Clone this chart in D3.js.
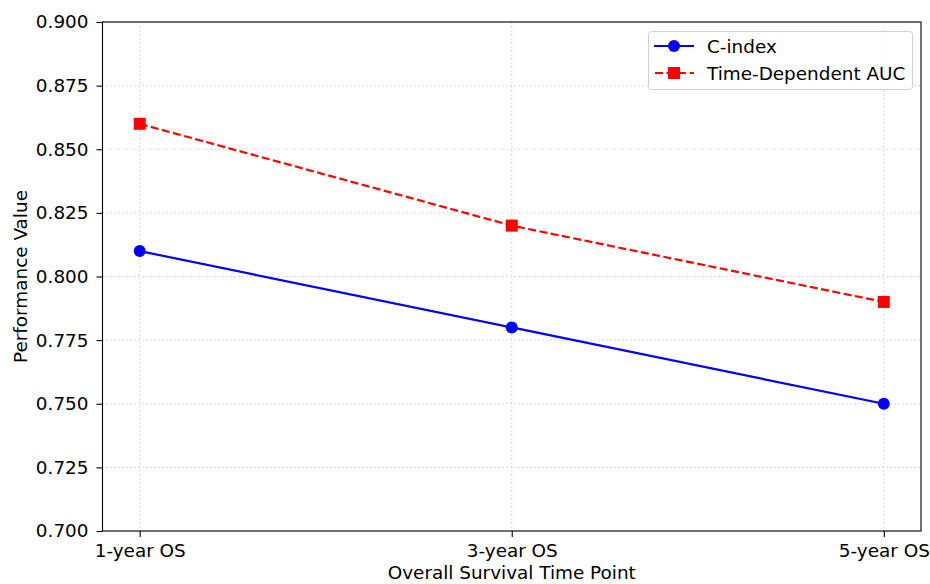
<!DOCTYPE html>
<html><head><meta charset="utf-8">
<script src="https://cdn.jsdelivr.net/npm/d3@7/dist/d3.min.js"></script>
<style>body{margin:0;background:#fff}text{font-family:"DejaVu Sans",sans-serif}</style>
</head><body><svg id="c" width="930" height="584"></svg>
<script>
const categories = ["1-year OS","3-year OS","5-year OS"];
const cIndex = [0.81, 0.78, 0.75];
const tdAUC = [0.86, 0.82, 0.79];
const yTicks = [0.700,0.725,0.750,0.775,0.800,0.825,0.850,0.875,0.900];

const svg = d3.select("#c");
const L=102.5, R=921, T=22, B=531;
const FS = 18.4;
const x = d3.scaleLinear().domain([-0.1, 2.1]).range([L, R]);
const y = d3.scaleLinear().domain([0.70, 0.90]).range([B, T]);

// grid
const g = svg.append("g");
g.selectAll(".gy").data(yTicks).enter().append("line")
 .attr("x1",L).attr("x2",R).attr("y1",d=>y(d)).attr("y2",d=>y(d))
 .attr("stroke","#b0b0b0").attr("stroke-opacity",0.6).attr("stroke-width",1).attr("stroke-dasharray","1.5,2.5");
g.selectAll(".gx").data(categories).enter().append("line")
 .attr("x1",(d,i)=>x(i)).attr("x2",(d,i)=>x(i)).attr("y1",T).attr("y2",B)
 .attr("stroke","#b0b0b0").attr("stroke-opacity",0.6).attr("stroke-width",1).attr("stroke-dasharray","1.5,2.5");

// axes
const yAxis = d3.axisLeft(y).tickValues(yTicks).tickFormat(d3.format(".3f")).tickSize(6).tickPadding(8);
const xAxis = d3.axisBottom(x).tickValues([0,1,2]).tickFormat(i=>categories[i]).tickSize(6).tickPadding(7);
const ya = svg.append("g").attr("transform",`translate(${L},0)`).call(yAxis);
const xa = svg.append("g").attr("transform",`translate(0,${B})`).call(xAxis);
[ya,xa].forEach(a=>{a.select(".domain").remove();a.selectAll("text").attr("font-size",FS).attr("fill","#000");a.selectAll("line").attr("stroke","#000").attr("stroke-width",1.1);});
svg.append("rect").attr("x",L).attr("y",T).attr("width",R-L).attr("height",B-T).attr("fill","none").attr("stroke","#000").attr("stroke-width",1.1);

// lines
const line = d3.line().x((d,i)=>x(i)).y(d=>y(d));
svg.append("path").datum(cIndex).attr("d",line).attr("fill","none").attr("stroke","#0000ff").attr("stroke-width",2.2);
svg.append("path").datum(tdAUC).attr("d",line).attr("fill","none").attr("stroke","#ff0000").attr("stroke-width",2.2).attr("stroke-dasharray","8,3.5");
svg.selectAll(".ci").data(cIndex).enter().append("circle").attr("cx",(d,i)=>x(i)).attr("cy",d=>y(d)).attr("r",6).attr("fill","#0000ff");
svg.selectAll(".ta").data(tdAUC).enter().append("rect").attr("x",(d,i)=>x(i)-6).attr("y",d=>y(d)-6).attr("width",12).attr("height",12).attr("fill","#ff0000");

// labels
svg.append("text").attr("x",(L+R)/2).attr("y",579).attr("text-anchor","middle").attr("font-size",FS).text("Overall Survival Time Point");
svg.append("text").attr("transform",`translate(27,${(T+B)/2}) rotate(-90)`).attr("text-anchor","middle").attr("font-size",FS).text("Performance Value");

// legend
const lg = svg.append("g");
lg.append("rect").attr("x",648.5).attr("y",31.5).attr("width",264).attr("height",58).attr("rx",3).attr("fill","#fff").attr("fill-opacity",0.8).attr("stroke","#d0d0d0");
lg.append("line").attr("x1",654).attr("x2",694).attr("y1",46).attr("y2",46).attr("stroke","#0000ff").attr("stroke-width",2.2);
lg.append("circle").attr("cx",674).attr("cy",46).attr("r",6).attr("fill","#0000ff");
lg.append("line").attr("x1",654).attr("x2",694).attr("y1",73).attr("y2",73).attr("stroke","#ff0000").attr("stroke-width",2.2).attr("stroke-dasharray","8,3.5").attr("stroke-dashoffset",-1);
lg.append("rect").attr("x",668).attr("y",67).attr("width",12).attr("height",12).attr("fill","#ff0000");
lg.append("text").attr("x",707).attr("y",52.5).attr("font-size",FS).text("C-index");
lg.append("text").attr("x",707).attr("y",79.5).attr("font-size",FS).text("Time-Dependent AUC");
</script></body></html>
